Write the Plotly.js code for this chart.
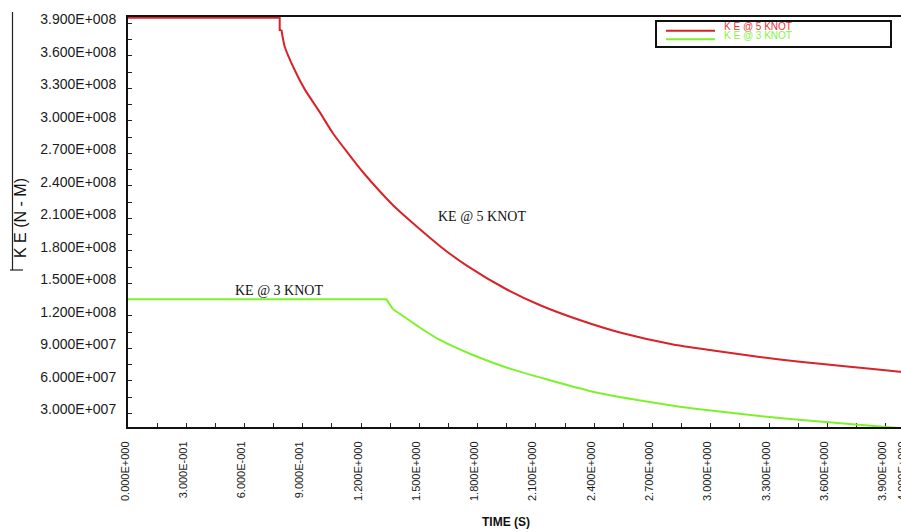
<!DOCTYPE html>
<html>
<head>
<meta charset="utf-8">
<script src="https://cdn.plot.ly/plotly-3.0.1.min.js"></script>
<style>
html, body { margin:0; padding:0; overflow:hidden; background:#fff; }
#chart { width:915px; height:532px; }
</style>
</head>
<body>
<div id="chart"></div>
<script>
// ---- data (time in s, kinetic energy in N-M) ----
const time5 = [0, 0.781, 0.781, 0.790, 0.807, 0.858, 0.910, 0.987, 1.055, 1.133, 1.210, 1.296, 1.382, 1.605, 1.742, 1.948, 2.119, 2.325, 2.548, 2.806, 3.012, 3.252, 3.458, 3.715, 3.973, 4.000];
const ke5 = [3.952e8, 3.952e8, 3.838e8, 3.838e8, 3.684e8, 3.469e8, 3.29e8, 3.08e8, 2.885e8, 2.700e8, 2.525e8, 2.35e8, 2.19e8, 1.845e8, 1.665e8, 1.445e8, 1.300e8, 1.161e8, 1.038e8, 9.35e7, 8.80e7, 8.20e7, 7.76e7, 7.30e7, 6.84e7, 6.80e7];
const break5 = 3;   // index where the plateau/drop ends and the smooth decay begins

const time3 = [0, 1.330, 1.364, 1.433, 1.500, 1.605, 1.776, 1.948, 2.154, 2.394, 2.600, 2.840, 3.012, 3.252, 3.560, 3.887, 4.000];
const ke3 = [1.352e8, 1.352e8, 1.260e8, 1.177e8, 1.094e8, 9.77e7, 8.38e7, 7.23e7, 6.14e7, 4.99e7, 4.29e7, 3.61e7, 3.24e7, 2.75e7, 2.24e7, 1.76e7, 1.60e7];
const break3 = 2;

const seriesNames = ["K E @ 5 KNOT", "K E @ 3 KNOT"];
const curveLabels = ["KE @ 5 KNOT", "KE @ 3 KNOT"];

const yTickVals = [3e7, 6e7, 9e7, 1.2e8, 1.5e8, 1.8e8, 2.1e8, 2.4e8, 2.7e8, 3.0e8, 3.3e8, 3.6e8, 3.9e8];
const yTickText = ["3.000E+007", "6.000E+007", "9.000E+007", "1.200E+008", "1.500E+008", "1.800E+008", "2.100E+008", "2.400E+008", "2.700E+008", "3.000E+008", "3.300E+008", "3.600E+008", "3.900E+008"];
const xTickVals = [0, 0.3, 0.6, 0.9, 1.2, 1.5, 1.8, 2.1, 2.4, 2.7, 3.0, 3.3, 3.6, 3.9, 4.0];
const xTickText = ["0.000E+000", "3.000E-001", "6.000E-001", "9.000E-001", "1.200E+000", "1.500E+000", "1.800E+000", "2.100E+000", "2.400E+000", "2.700E+000", "3.000E+000", "3.300E+000", "3.600E+000", "3.900E+000", "4.000E+000"];

const xTitle = "TIME (S)";
const yTitle = "K E (N - M)";

// ---- layout helpers ----
const L = 128, T = 17, PW = 777, PH = 410, W = 915, H = 532;
const px = x => (x - L) / PW;          // pixel -> paper x
const py = y => (T + PH - y) / PH;     // pixel -> paper y

const RED = "#d8232a", GREEN = "#7df22c";

function seriesTraces(t, v, brk, name, color) {
  return [
    { x: t.slice(0, brk + 1), y: v.slice(0, brk + 1), type: "scatter", mode: "lines",
      name: name, legendgroup: name, showlegend: false,
      line: { color: color, width: 2 } },
    { x: t.slice(brk), y: v.slice(brk), type: "scatter", mode: "lines",
      name: name, legendgroup: name, showlegend: false,
      line: { color: color, width: 2, shape: "spline", smoothing: 0.7 } }
  ];
}

const traces = [].concat(
  seriesTraces(time5, ke5, break5, seriesNames[0], RED),
  seriesTraces(time3, ke3, break3, seriesNames[1], GREEN)
);

const axisFont = { family: "Liberation Sans, Arial, sans-serif", color: "#1a1a1a" };
const legendFont = "Liberation Sans Narrow, Arial Narrow, Liberation Sans, Arial, sans-serif";

const layout = {
  width: W, height: H,
  margin: { l: L, t: T, r: W - L - PW, b: H - T - PH },
  paper_bgcolor: "#fff", plot_bgcolor: "#fff",
  showlegend: false,
  xaxis: {
    range: [0, 4.0], tickmode: "array", tickvals: xTickVals, ticktext: xTickText,
    tickangle: -90, ticks: "inside", ticklen: 4, tickcolor: "#222", tickwidth: 1,
    tickfont: Object.assign({ size: 11 }, axisFont),
    ticklabelstandoff: 8, ticklabelshift: -3,
    minor: { tickmode: "linear", tick0: 0, dtick: 0.15, ticks: "inside", ticklen: 4, tickcolor: "#222" },
    showgrid: false, zeroline: false, showline: true, linecolor: "#111", linewidth: 2,
    mirror: true, layer: "below traces", fixedrange: true
  },
  yaxis: {
    range: [1.735e7, 3.958e8], tickmode: "array", tickvals: yTickVals, ticktext: yTickText,
    ticks: "inside", ticklen: 4, tickcolor: "#222", tickwidth: 1,
    tickfont: Object.assign({ size: 14 }, axisFont),
    ticklabelstandoff: 7, ticklabelshift: -4,
    minor: { tickmode: "linear", tick0: 0, dtick: 1.5e7, ticks: "inside", ticklen: 4, tickcolor: "#222" },
    showgrid: false, zeroline: false, showline: true, linecolor: "#111", linewidth: 2,
    mirror: true, layer: "below traces", fixedrange: true
  },
  shapes: [
    // legend box
    { type: "rect", xref: "paper", yref: "paper", x0: px(656), x1: px(891), y0: py(47), y1: py(21),
      line: { color: "#111", width: 2 }, fillcolor: "#fff" },
    { type: "line", xref: "paper", yref: "paper", x0: px(666), x1: px(715), y0: py(30.7), y1: py(30.7),
      line: { color: RED, width: 2 } },
    { type: "line", xref: "paper", yref: "paper", x0: px(666), x1: px(715), y0: py(39.3), y1: py(39.3),
      line: { color: GREEN, width: 2 } },
    // left marker line near axis title
    { type: "line", xref: "paper", yref: "paper", x0: px(12.5), x1: px(12.5), y0: py(12), y1: py(270),
      line: { color: "#222", width: 1.2 } },
    { type: "line", xref: "paper", yref: "paper", x0: px(10), x1: px(23), y0: py(270), y1: py(270),
      line: { color: "#222", width: 1.2 } }
  ],
  annotations: [
    { xref: "paper", yref: "paper", x: px(722), y: py(26.3), xanchor: "left", yanchor: "middle",
      text: seriesNames[0], showarrow: false,
      font: { family: legendFont, size: 10, color: "#e8323a" } },
    { xref: "paper", yref: "paper", x: px(722), y: py(35), xanchor: "left", yanchor: "middle",
      text: seriesNames[1], showarrow: false,
      font: { family: legendFont, size: 10, color: "#84f53a" } },
    { xref: "x", yref: "y", x: 1.823, y: 2.112e8, text: curveLabels[0], showarrow: false,
      font: { family: "Liberation Serif, Times New Roman, serif", size: 14, color: "#111" } },
    { xref: "x", yref: "y", x: 0.776, y: 1.43e8, text: curveLabels[1], showarrow: false,
      font: { family: "Liberation Serif, Times New Roman, serif", size: 14, color: "#111" } },
    { xref: "paper", yref: "paper", x: px(506), y: py(522), xanchor: "center", yanchor: "middle",
      text: "<b>" + xTitle + "</b>", showarrow: false,
      font: { family: "Liberation Sans, Arial, sans-serif", size: 12, color: "#111" } },
    { xref: "paper", yref: "paper", x: px(20), y: py(218), xanchor: "center", yanchor: "middle",
      text: yTitle, textangle: -90, showarrow: false,
      font: { family: "Liberation Sans, Arial, sans-serif", size: 16, color: "#111" } }
  ]
};

Plotly.newPlot("chart", traces, layout, { displayModeBar: false, responsive: false, staticPlot: true });
</script>
</body>
</html>
